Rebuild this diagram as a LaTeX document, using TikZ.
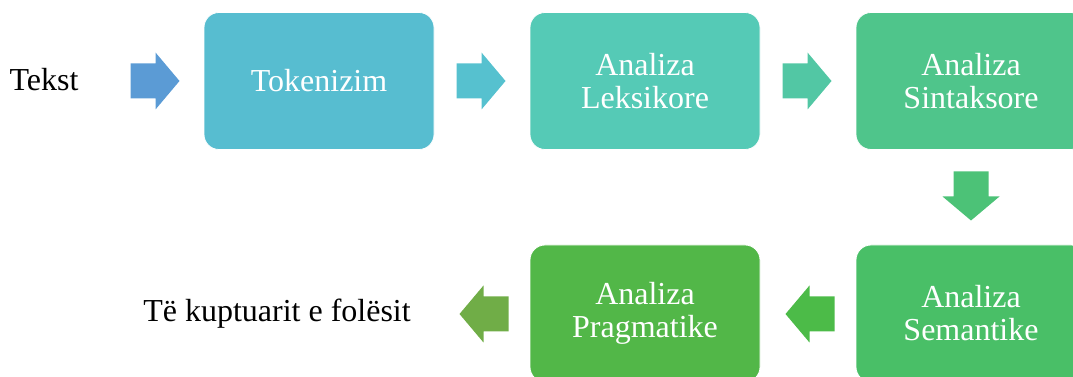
\documentclass[tikz,border=0pt]{standalone}
\usepackage{fontspec}
\setmainfont{Liberation Serif}
\definecolor{cArrA}{HTML}{5B9BD5}
\definecolor{cTok}{HTML}{57BDD0}
\definecolor{cArrB}{HTML}{56C1CF}
\definecolor{cLek}{HTML}{55CAB6}
\definecolor{cArrC}{HTML}{52C7A4}
\definecolor{cSin}{HTML}{4FC58B}
\definecolor{cArrD}{HTML}{4CC277}
\definecolor{cSem}{HTML}{49BF67}
\definecolor{cArrE}{HTML}{4CBB48}
\definecolor{cPra}{HTML}{52B748}
\definecolor{cArrF}{HTML}{70AD47}
\begin{document}
\begin{tikzpicture}[x=1pt,y=1pt,
  stagebox/.style={rectangle, rounded corners=15pt, minimum width=230pt,
    minimum height=137pt, draw=white, line width=0.8pt, text=white,
    align=center, font=\fontsize{32}{33}\selectfont},
  plainlabel/.style={text=black, font=\fontsize{32}{33}\selectfont, inner sep=0pt},
  blockarr/.pic={\fill (-24.5,-17.5) -- (0.5,-17.5) -- (0.5,-28.5) -- (24.5,0)
    -- (0.5,28.5) -- (0.5,17.5) -- (-24.5,17.5) -- cycle;}]
\useasboundingbox (0,0) rectangle (1073,377);
\clip (0,0) rectangle (1073,377);

% process stages
\node[stagebox, fill=cTok] (tok) at (319,296) {Tokenizim};
\node[stagebox, fill=cLek] (lek) at (645,296) {Analiza\\Leksikore};
\node[stagebox, fill=cSin] (sin) at (971,296) {Analiza\\Sintaksore};
\node[stagebox, fill=cSem] (sem) at (971,63.5) {Analiza\\Semantike};
\node[stagebox, fill=cPra] (pra) at (645,63.5) {Analiza\\Pragmatike};

% input and output
\node[plainlabel] (tekst) at (44,297) {Tekst};
\node[plainlabel] (out) at (277,63) {Të kuptuarit e folësit};

% block arrows between the stages
\pic[cArrA] at (155,296) {blockarr};
\pic[cArrB] at (481,296) {blockarr};
\pic[cArrC] at (807,296) {blockarr};
\pic[cArrD, rotate=-90] at (971,181) {blockarr};
\pic[cArrE, rotate=180] at (810,63) {blockarr};
\pic[cArrF, rotate=180] at (484,63) {blockarr};
\end{tikzpicture}
\end{document}
